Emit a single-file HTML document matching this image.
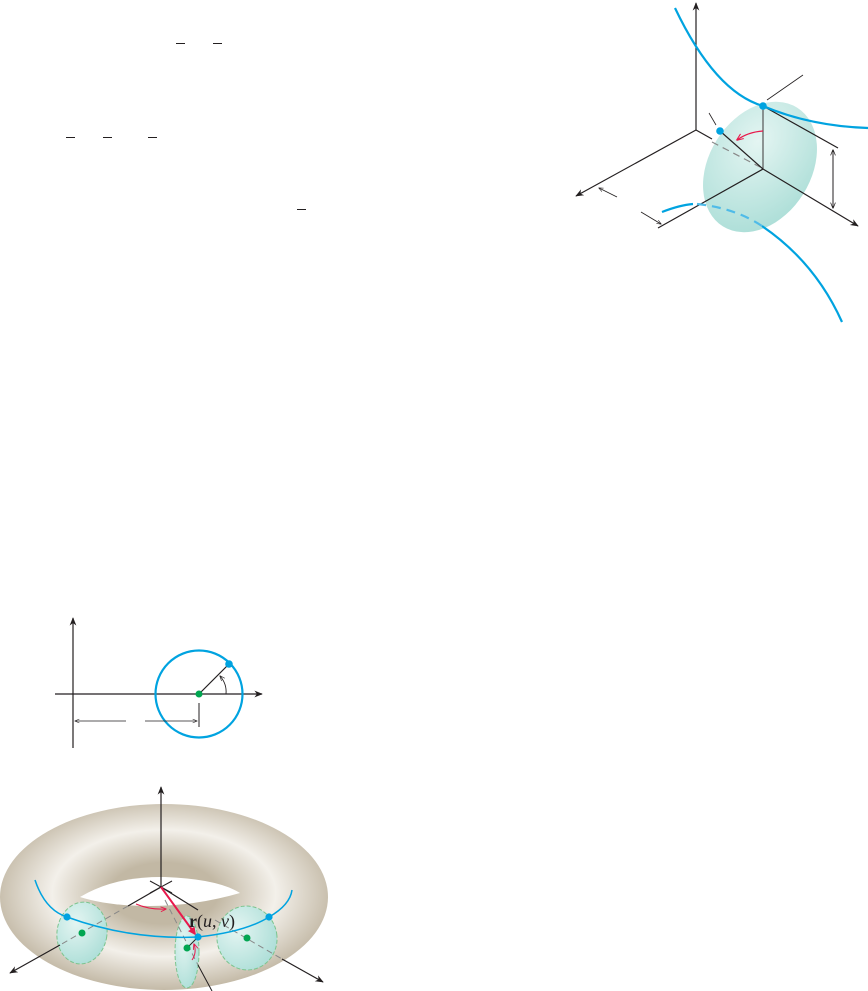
<!DOCTYPE html>
<html><head><meta charset="utf-8"><style>
html,body{margin:0;padding:0;background:#fff;}
svg{display:block;}
</style></head><body>
<svg width="868" height="991" viewBox="0 0 868 991">
<defs>
<marker id="ah" viewBox="0 0 10 10" refX="9" refY="5" markerWidth="7" markerHeight="7" orient="auto-start-reverse"><path d="M0,1 L10,5 L0,9 L3,5 z" fill="#231f20"/></marker>
<marker id="ahs" viewBox="0 0 10 10" refX="9" refY="5" markerWidth="6" markerHeight="6" orient="auto-start-reverse"><path d="M0,1 L10,5 L0,9" fill="none" stroke="#231f20" stroke-width="1.2"/></marker>
<marker id="ahr" viewBox="0 0 10 10" refX="9" refY="5" markerWidth="6" markerHeight="6" orient="auto"><path d="M0,1 L10,5 L0,9" fill="none" stroke="#e8194c" stroke-width="1.5"/></marker>
<marker id="ahR" viewBox="0 0 10 10" refX="8" refY="5" markerWidth="4" markerHeight="4" orient="auto"><path d="M0,0 L10,5 L0,10 z" fill="#e8194c"/></marker>
<radialGradient id="cyan" cx="0.35" cy="0.35" r="0.8"><stop offset="0" stop-color="#e4f5f2"/><stop offset="1" stop-color="#a7dcd5"/></radialGradient>
<radialGradient id="tan" cx="0.5" cy="0.48" r="0.55"><stop offset="0.3" stop-color="#c2b8a4"/><stop offset="0.62" stop-color="#f3f0ea"/><stop offset="1" stop-color="#bcb19c"/></radialGradient>
</defs>

<g stroke="#231f20" stroke-width="1">
<line x1="176" y1="43.5" x2="185" y2="43.5"/><line x1="213" y1="43.5" x2="222" y2="43.5"/>
<line x1="66" y1="137.5" x2="75" y2="137.5"/><line x1="103" y1="137.5" x2="112" y2="137.5"/><line x1="148" y1="137.5" x2="157" y2="137.5"/>
<line x1="297" y1="209.5" x2="306" y2="209.5"/>
</g>

<g>
<ellipse cx="760" cy="167" rx="51" ry="70" transform="rotate(32 760 167)" fill="url(#cyan)"/>
<line x1="696" y1="130" x2="696" y2="3" stroke="#231f20" stroke-width="1.2" marker-end="url(#ah)"/>
<line x1="696" y1="130" x2="576" y2="196" stroke="#231f20" stroke-width="1.2" marker-end="url(#ah)"/>
<line x1="696" y1="130" x2="712" y2="139" stroke="#231f20" stroke-width="1.2"/>
<line x1="712" y1="142" x2="760" y2="167" stroke="#888" stroke-width="1.2" stroke-dasharray="7,5"/>
<line x1="763" y1="169" x2="658" y2="228" stroke="#231f20" stroke-width="1.2"/>
<line x1="763" y1="169" x2="858" y2="226" stroke="#231f20" stroke-width="1.2" marker-end="url(#ah)"/>
<line x1="763" y1="169" x2="763" y2="106" stroke="#555" stroke-width="1.2"/>
<line x1="763" y1="106" x2="838" y2="148" stroke="#231f20" stroke-width="1.2"/>
<line x1="763" y1="169" x2="720" y2="131" stroke="#231f20" stroke-width="1.2"/>
<line x1="709" y1="113" x2="716" y2="125" stroke="#231f20" stroke-width="0.8"/>
<line x1="767" y1="100" x2="803" y2="75" stroke="#231f20" stroke-width="0.8"/>
<line x1="833" y1="150" x2="833" y2="208" stroke="#231f20" stroke-width="1" marker-start="url(#ahs)" marker-end="url(#ahs)"/>
<line x1="617" y1="197" x2="599" y2="188" stroke="#231f20" stroke-width="0.8" marker-end="url(#ahs)"/>
<line x1="641" y1="212" x2="661" y2="224" stroke="#231f20" stroke-width="0.8" marker-end="url(#ahs)"/>
<path d="M763,131 Q748,132 737,140" fill="none" stroke="#e8194c" stroke-width="1.2" marker-end="url(#ahr)"/>
<path d="M675,8 Q715,92 763,106 Q810,126 868,128" fill="none" stroke="#00a3e0" stroke-width="2.2"/>
<path d="M662,212 Q680,205 693,204" fill="none" stroke="#00a3e0" stroke-width="2.2"/>
<path d="M697,204 Q735,208 762,226" fill="none" stroke="#4fbbe8" stroke-width="2.2" stroke-dasharray="9,6"/>
<path d="M762,226 Q815,262 842,322" fill="none" stroke="#00a3e0" stroke-width="2.2"/>
<circle cx="763" cy="106" r="3.8" fill="#00a3e0"/>
<circle cx="720" cy="131" r="3.8" fill="#00a3e0"/>
</g>

<g>
<line x1="73" y1="748" x2="73" y2="618" stroke="#231f20" stroke-width="1.2" marker-end="url(#ah)"/>
<line x1="55" y1="694" x2="262" y2="694" stroke="#231f20" stroke-width="1.2" marker-end="url(#ah)"/>
<circle cx="199" cy="694" r="43.5" fill="none" stroke="#00a3e0" stroke-width="2.2"/>
<line x1="199" y1="694" x2="229" y2="664" stroke="#231f20" stroke-width="1.2"/>
<path d="M226,694 Q227,684 220,676" fill="none" stroke="#231f20" stroke-width="0.9" marker-end="url(#ahs)"/>
<line x1="199" y1="703" x2="199" y2="727" stroke="#231f20" stroke-width="1"/>
<line x1="126" y1="721" x2="75" y2="721" stroke="#231f20" stroke-width="0.8" marker-end="url(#ahs)"/>
<line x1="145" y1="721" x2="197" y2="721" stroke="#231f20" stroke-width="0.8" marker-end="url(#ahs)"/>
<circle cx="229" cy="664" r="3.8" fill="#00a3e0"/>
<circle cx="199" cy="694" r="3.5" fill="#00a651"/>
</g>

<g>
<ellipse cx="164" cy="897" rx="164" ry="93" fill="url(#tan)"/>
<path d="M80,897 Q115,876 165,877 Q218,879 240,893 Q195,906 150,906 Q108,906 80,897 z" fill="#fff"/>
<line x1="161" y1="887" x2="161" y2="787" stroke="#231f20" stroke-width="1.2" marker-end="url(#ah)"/>
<line x1="161" y1="887" x2="128" y2="906" stroke="#231f20" stroke-width="1.2"/>
<line x1="161" y1="887" x2="198" y2="910" stroke="#231f20" stroke-width="1.2"/>
<line x1="150" y1="881" x2="172" y2="893" stroke="#231f20" stroke-width="1"/>
<line x1="150" y1="893" x2="172" y2="881" stroke="#231f20" stroke-width="1"/>
<ellipse cx="82" cy="933" rx="25" ry="31" transform="rotate(8 82 933)" fill="url(#cyan)" stroke="#7cc48e" stroke-width="1" stroke-dasharray="4,2"/>
<ellipse cx="247" cy="938" rx="30" ry="32" transform="rotate(-8 247 938)" fill="url(#cyan)" stroke="#7cc48e" stroke-width="1" stroke-dasharray="4,2"/>
<ellipse cx="187" cy="952" rx="12" ry="36" fill="url(#cyan)" stroke="#7cc48e" stroke-width="1" stroke-dasharray="4,2"/>
<line x1="128" y1="906" x2="60" y2="945" stroke="#888" stroke-width="1" stroke-dasharray="6,4"/>
<line x1="60" y1="945" x2="10" y2="973" stroke="#231f20" stroke-width="1.2" marker-end="url(#ah)"/>
<line x1="215" y1="920" x2="282" y2="959" stroke="#888" stroke-width="1" stroke-dasharray="6,4"/>
<line x1="282" y1="959" x2="323" y2="982" stroke="#231f20" stroke-width="1.2" marker-end="url(#ah)"/>
<line x1="165" y1="900" x2="198" y2="965" stroke="#888" stroke-width="1" stroke-dasharray="6,4"/>
<line x1="198" y1="965" x2="212" y2="991" stroke="#231f20" stroke-width="1"/>
<path d="M35,880 Q45,910 67,917 Q130,940 198,937 Q245,932 269,917 Q290,905 292,890" fill="none" stroke="#00a3e0" stroke-width="1.5"/>
<path d="M136,904 Q150,910 166,909" fill="none" stroke="#e8194c" stroke-width="1" marker-end="url(#ahr)"/>
<path d="M192,960 Q197,953 194,944" fill="none" stroke="#e8194c" stroke-width="1" marker-end="url(#ahr)"/>
<line x1="187" y1="948" x2="198" y2="937" stroke="#231f20" stroke-width="1"/>
<line x1="161" y1="887" x2="195" y2="934" stroke="#e8194c" stroke-width="2" marker-end="url(#ahR)"/>
<circle cx="67" cy="917" r="3.6" fill="#00a3e0"/>
<circle cx="198" cy="937" r="3.6" fill="#00a3e0"/>
<circle cx="269" cy="917" r="3.6" fill="#00a3e0"/>
<circle cx="82" cy="933" r="3.5" fill="#00a651"/>
<circle cx="247" cy="938" r="3.5" fill="#00a651"/>
<circle cx="187" cy="948" r="3.5" fill="#00a651"/>
<text x="189" y="927" font-family="Liberation Serif, serif" font-size="18" fill="#231f20"><tspan font-weight="bold">r</tspan>(<tspan font-style="italic">u</tspan>, <tspan font-style="italic">v</tspan>)</text>
</g>
</svg>
</body></html>
